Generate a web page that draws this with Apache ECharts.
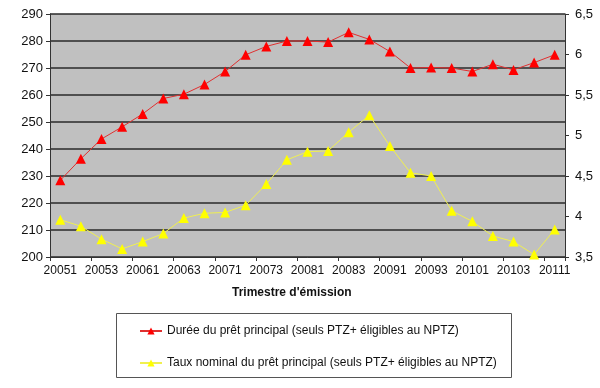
<!DOCTYPE html>
<html><head><meta charset="utf-8">
<script src="https://cdn.jsdelivr.net/npm/echarts@6/dist/echarts.min.js"></script>
<style>html,body{margin:0;padding:0;background:#fff}#c{width:600px;height:388px}</style>
</head><body><div id="c"></div>
<script>
const categories = ['20051','20052','20053','20054','20061','20062','20063','20064','20071','20072','20073','20074','20081','20082','20083','20084','20091','20092','20093','20094','20101','20102','20103','20104','20111'];
const duree = [228.4,236.4,243.7,248.2,253,258.7,260.3,263.9,268.7,274.9,278,280,280,279.6,283.2,280.6,276.1,270,270.2,270,268.7,271.4,269.3,272,274.9];
const taux = [3.96,3.88,3.72,3.60,3.69,3.79,3.98,4.04,4.05,4.14,4.40,4.70,4.80,4.81,5.04,5.25,4.87,4.54,4.50,4.07,3.94,3.76,3.69,3.53,3.84];
const nameDuree = 'Durée du prêt principal (seuls PTZ+ éligibles au NPTZ)';
const nameTaux = 'Taux nominal du prêt principal (seuls PTZ+ éligibles au NPTZ)';
const xTitle = "Trimestre d'émission";

const chart = echarts.init(document.getElementById('c'), null, {renderer:'canvas'});
const font = 'Liberation Sans, Arial, sans-serif';
chart.setOption({
  animation:false,
  backgroundColor:'#fff',
  textStyle:{fontFamily:font},
  grid:{left:50,right:35,top:14,bottom:131,show:true,backgroundColor:'#c0c0c0',borderWidth:0},
  legend:{
    orient:'vertical',left:134,top:320,itemGap:20,itemWidth:22,itemHeight:9,
    textStyle:{fontSize:12,color:'#111',fontFamily:font},
    data:[nameDuree,nameTaux]
  },
  graphic:[
    {type:'rect',shape:{x:116.5,y:313.5,width:395,height:64},style:{fill:'none',stroke:'#555',lineWidth:1},z:-1},
    {type:'text',top:287,left:232,style:{text:xTitle,font:'bold 12px '+font,fill:'#111'}}
  ],
  xAxis:{
    type:'category',data:categories,boundaryGap:true,
    axisLine:{lineStyle:{color:'#333',width:1}},
    axisTick:{show:true,interval:1,length:4,lineStyle:{color:'#333'}},
    axisLabel:{interval:1,fontSize:12,color:'#111',margin:8}
  },
  yAxis:[
    {type:'value',min:200,max:290,interval:10,
     axisLine:{show:true,lineStyle:{color:'#333',width:1}},
     axisTick:{show:true,length:4,lineStyle:{color:'#333'}},
     axisLabel:{fontSize:13,color:'#111',margin:7},
     splitLine:{show:true,lineStyle:{color:'#2a2a2a',width:1.5}}},
    {type:'value',min:3.5,max:6.5,interval:0.5,position:'right',
     axisLine:{show:true,lineStyle:{color:'#333',width:1}},
     axisTick:{show:true,length:4,lineStyle:{color:'#333'}},
     axisLabel:{fontSize:13,color:'#111',margin:10,formatter:v=>String(v).replace('.',',')},
     splitLine:{show:false}}
  ],
  series:[
    {name:nameDuree,type:'line',yAxisIndex:0,data:duree,symbol:'triangle',symbolSize:10,
     lineStyle:{color:'#e03030',width:1},itemStyle:{color:'#ff0000'}},
    {name:nameTaux,type:'line',yAxisIndex:1,data:taux,symbol:'triangle',symbolSize:10,
     lineStyle:{color:'#f0f050',width:1},itemStyle:{color:'#ffff00'}}
  ]
});
</script></body></html>
